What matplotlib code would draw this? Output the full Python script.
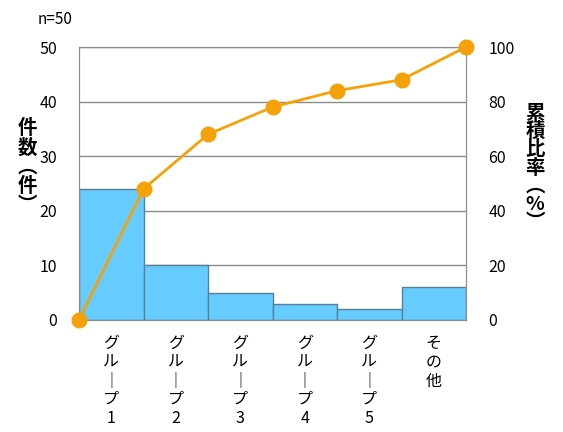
import matplotlib
matplotlib.use('Agg')
import matplotlib.pyplot as plt
import numpy as np

plt.rcParams['font.family'] = ['Noto Sans CJK JP', 'DejaVu Sans']

# データ
categories = ["グループ1", "グループ2", "グループ3", "グループ4", "グループ5", "その他"]
counts = [24, 10, 5, 3, 2, 6]
cum_ratio = [0, 48, 68, 78, 84, 88, 100]
n_total = 50

bar_color = '#66CCFF'
line_color = '#F5A10A'
grid_color = '#8c8c8c'

fig = plt.figure(figsize=(5.63, 4.32), dpi=100)
ax = fig.add_axes([79 / 563, 1 - 320 / 432, (466 - 79) / 563, (320 - 47) / 432])

x = np.arange(len(counts))
ax.bar(x, counts, width=1.0, align='edge', color=bar_color, edgecolor='#5a7f94', linewidth=1.0, zorder=2)
ax.set_xlim(0, len(counts))
ax.set_ylim(0, 50)
ax.set_yticks(range(0, 51, 10))
ax.yaxis.grid(True, color=grid_color, linewidth=1.0, zorder=0)
ax.set_axisbelow(True)

# 縦書きラベル
def vertical(s):
    return "\n".join("｜" if c == "ー" else c for c in s)

ax.set_xticks(x + 0.5)
ax.set_xticklabels([vertical(c) for c in categories], fontsize=11.5, linespacing=1.12, va='top')
ax.tick_params(axis='x', length=0, pad=11)
ax.tick_params(axis='y', length=0, pad=16, labelsize=11.5)

for sp in ax.spines.values():
    sp.set_color(grid_color)

ax2 = ax.twinx()
ax2.plot(np.arange(len(cum_ratio)), cum_ratio, color=line_color, linewidth=2,
         marker='o', markersize=10.5, clip_on=False, zorder=5)
ax2.set_ylim(0, 100)
ax2.set_yticks(range(0, 101, 20))
ax2.tick_params(axis='y', length=0, pad=16, labelsize=11.5)
for sp in ax2.spines.values():
    sp.set_color(grid_color)

fig.text(38 / 563, 1 - 20 / 432, f"n={n_total}", fontsize=11, va='center', ha='left')
fig.text(27 / 563, 1 - 167 / 432, "件\n数\n︵\n件\n︶", fontsize=14, fontweight='bold',
         ha='center', va='center', linespacing=1.0)
fig.text(535 / 563, 1 - 168 / 432, "累\n積\n比\n率\n︵\n%\n︶", fontsize=14, fontweight='bold',
         ha='center', va='center', linespacing=0.95)

plt.savefig('out.png', dpi=100)
plt.close()
